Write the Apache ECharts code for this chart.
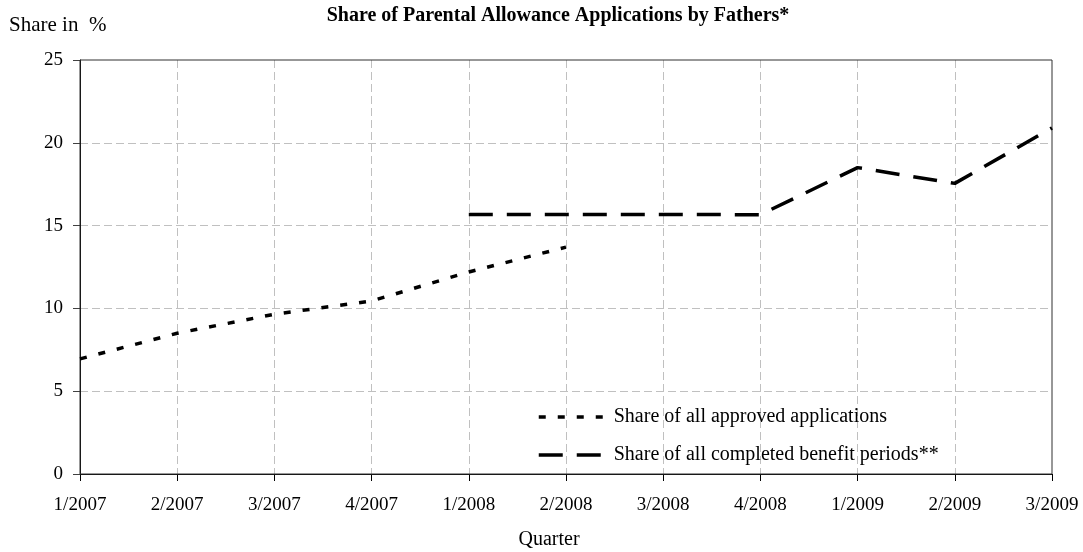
<!DOCTYPE html>
<html>
<head>
<meta charset="utf-8">
<script src="https://cdn.jsdelivr.net/npm/echarts@6/dist/echarts.min.js"></script>
<style>
html,body{margin:0;padding:0;background:#fff;}
#chart{width:1083px;height:552px;}
</style>
</head>
<body>
<div id="chart"></div>
<script>
var quarters = ['1/2007','2/2007','3/2007','4/2007','1/2008','2/2008','3/2008','4/2008','1/2009','2/2009','3/2009'];
var approvedApplications = [6.95, 8.5, 9.65, 10.45, 12.2, 13.7, null, null, null, null, null];
var completedPeriods = [null, null, null, null, 15.67, 15.67, 15.67, 15.66, 18.5, 17.55, 20.9];
var yTicks = [0, 5, 10, 15, 20, 25];

var FONT = '"Liberation Serif", "Times New Roman", serif';
var chart = echarts.init(document.getElementById('chart'), null, {renderer: 'canvas'});
chart.setOption({
  backgroundColor: '#fff',
  animation: false,
  grid: {left: 80, right: 31, top: 60, bottom: 78, show: true, borderColor: '#303030', borderWidth: 1, backgroundColor: 'transparent', z: 3},
  graphic: [
    {type: 'text', x: 558, y: 16, style: {text: 'Share of Parental Allowance Applications by Fathers*', fontFamily: FONT, fontSize: 20, fontWeight: 'bold', fill: '#000', align: 'center', verticalAlign: 'middle'}},
    {type: 'text', x: 9, y: 25, style: {text: 'Share in  %', fontFamily: FONT, fontSize: 21, fill: '#000', align: 'left', verticalAlign: 'middle'}},
    {type: 'text', x: 549, y: 540, style: {text: 'Quarter', fontFamily: FONT, fontSize: 20, fill: '#000', align: 'center', verticalAlign: 'middle'}}
  ],
  legend: {
    orient: 'vertical', left: 537, top: 407, padding: 0, itemWidth: 70, itemHeight: 14, itemGap: 18,
    itemStyle: {opacity: 0},
    lineStyle: {width: 3.5},
    textStyle: {fontFamily: FONT, fontSize: 20, color: '#000', lineHeight: 20},
    data: ['Share of all approved applications', 'Share of all completed benefit periods**']
  },
  xAxis: {
    type: 'category', boundaryGap: false, data: quarters,
    axisLine: {lineStyle: {color: '#000', width: 1}},
    axisTick: {show: true, length: 7, alignWithLabel: true, lineStyle: {color: '#000'}},
    axisLabel: {fontFamily: FONT, fontSize: 19, color: '#000', margin: 22},
    splitLine: {show: true, showMinLine: false, showMaxLine: false, lineStyle: {color: '#c0c0c0', type: [8, 4], width: 1}}
  },
  yAxis: {
    type: 'value', min: 0, max: 25, interval: 5,
    axisLine: {show: true, lineStyle: {color: '#000', width: 1}},
    axisTick: {show: true, length: 7, lineStyle: {color: '#404040'}},
    axisLabel: {fontFamily: FONT, fontSize: 19, color: '#000', margin: 17,
      formatter: function (v) { return yTicks.indexOf(v) >= 0 ? String(v) : ''; }},
    splitLine: {show: true, showMinLine: false, showMaxLine: false, lineStyle: {color: '#c0c0c0', type: [8, 4], width: 1}}
  },
  series: [
    {name: 'Share of all approved applications', type: 'line', data: approvedApplications, symbol: 'none', connectNulls: false,
      lineStyle: {color: '#000', width: 3.5, type: [7, 12], cap: 'butt'}, itemStyle: {color: '#000'}},
    {name: 'Share of all completed benefit periods**', type: 'line', data: completedPeriods, symbol: 'none', connectNulls: false,
      lineStyle: {color: '#000', width: 3.5, type: [24, 14], cap: 'butt'}, itemStyle: {color: '#000'}}
  ]
});
</script>
</body>
</html>
